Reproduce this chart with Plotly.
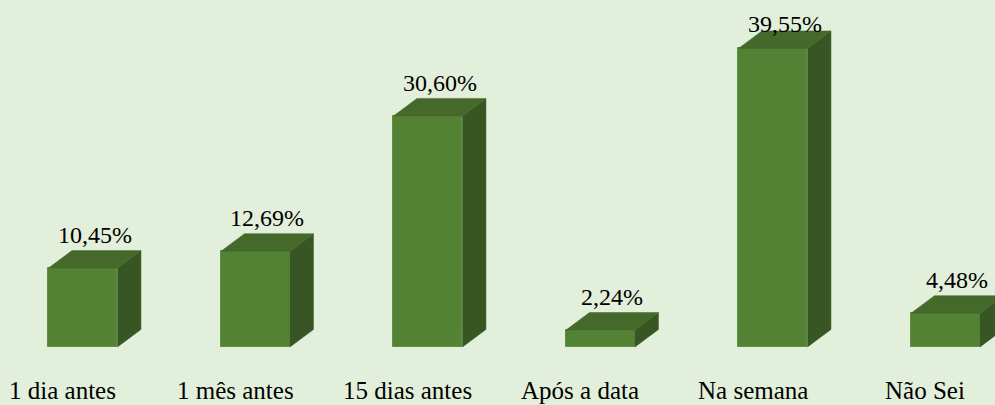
import plotly.graph_objects as go

categories = ["1 dia antes", "1 mês antes", "15 dias antes", "Após a data", "Na semana", "Não Sei"]
values = [10.45, 12.69, 30.60, 2.24, 39.55, 4.48]
value_labels = ["10,45%", "12,69%", "30,60%", "2,24%", "39,55%", "4,48%"]

BG = "#E2EFDA"
FRONT = "#548235"
TOP = "#44692B"
SIDE = "#375623"
FONT = "Liberation Serif"

W = 0.40      # bar width (category units)
DX = 0.136    # depth offset x (category units)
DY = 2.32     # depth offset y (value units)
XR = [-0.481, 5.287]
YR = [-7.68, 45.96]


def px(x):
    return (x - XR[0]) / (XR[1] - XR[0])


def py(y):
    return (y - YR[0]) / (YR[1] - YR[0])


fig = go.Figure()

xs = list(range(len(categories)))

fig.add_trace(go.Bar(
    x=xs, y=values, width=W, marker=dict(color=FRONT, line=dict(color="#5F8F40", width=1)),
    hoverinfo="skip", showlegend=False,
))

for i, v in zip(xs, values):
    l, r = i - W / 2, i + W / 2
    fig.add_trace(go.Scatter(
        x=[r, r + DX, r + DX, r, r], y=[0, DY, v + DY, v, 0],
        fill="toself", fillcolor=SIDE, mode="lines", line=dict(color=SIDE, width=0.5),
        hoverinfo="skip", showlegend=False,
    ))
    fig.add_trace(go.Scatter(
        x=[l, r, r + DX, l + DX, l], y=[v, v, v + DY, v + DY, v],
        fill="toself", fillcolor=TOP, mode="lines", line=dict(color=TOP, width=0.5),
        hoverinfo="skip", showlegend=False,
    ))

for i, v, t in zip(xs, values, value_labels):
    fig.add_annotation(
        x=px(i + DX / 2), y=py(min(v + DY + 2.1, 42.8)), xref="paper", yref="paper", text=t,
        showarrow=False, yanchor="middle", xanchor="center",
        font=dict(family=FONT, size=24),
    )
for i, c in zip(xs, categories):
    fig.add_annotation(
        x=px(i), y=py(-5.7), xref="paper", yref="paper", text=c, showarrow=False,
        yanchor="middle", xanchor="center", xshift=-20,
        font=dict(family=FONT, size=25),
    )

fig.update_layout(
    width=995, height=405,
    margin=dict(l=0, r=0, t=0, b=0),
    paper_bgcolor=BG, plot_bgcolor=BG,
    font=dict(family=FONT, color="black"),
    xaxis=dict(range=XR, visible=False, fixedrange=True),
    yaxis=dict(range=YR, visible=False, fixedrange=True),
    bargap=0,
)

fig.write_html("out.html", config={"displayModeBar": False},
               post_script="document.body.style.margin='0';document.body.style.background='#E2EFDA';")
